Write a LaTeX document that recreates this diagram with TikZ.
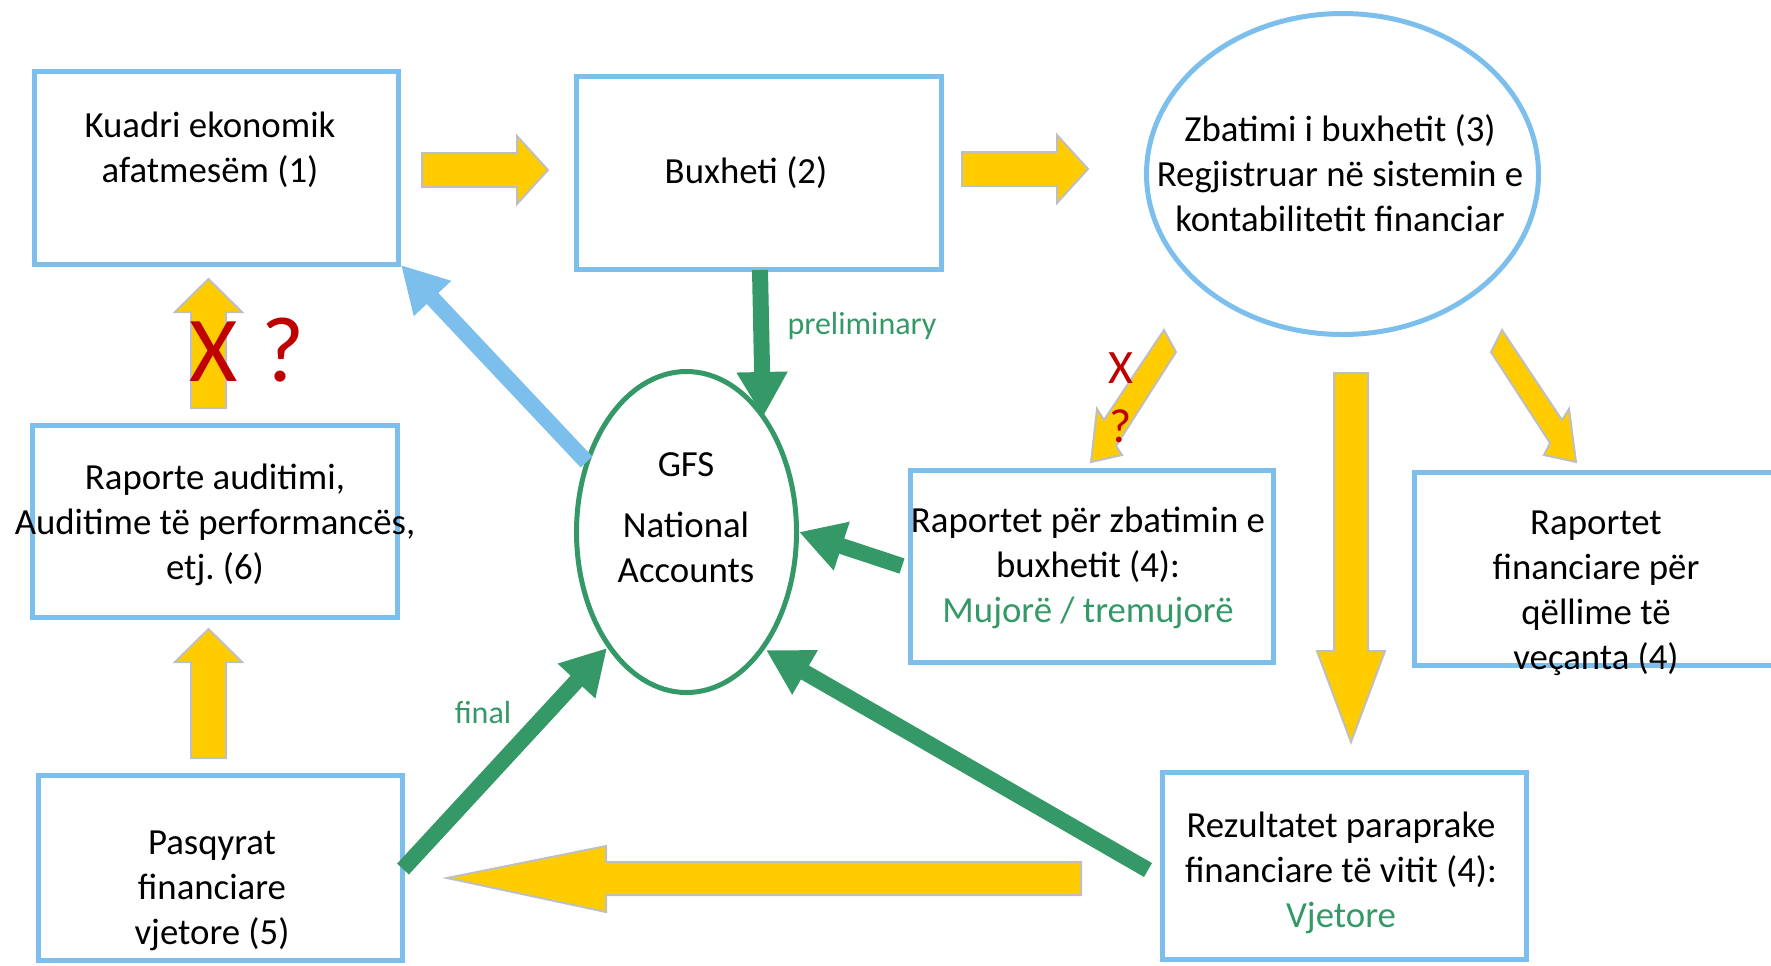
\documentclass[tikz,border=0pt]{standalone}
\usepackage{fontspec}
\setmainfont{Carlito}
\usetikzlibrary{arrows.meta,shapes.geometric}
\definecolor{lblue}{RGB}{125,191,236}
\definecolor{dgreen}{RGB}{52,153,102}
\definecolor{yel}{RGB}{255,204,0}
\definecolor{ygray}{RGB}{191,191,191}
\definecolor{dred}{RGB}{192,0,0}
\frenchspacing
\begin{document}
\begin{tikzpicture}[x=0.5pt,y=-0.5pt,
  box/.style={draw=lblue, line width=2.5pt, rectangle, inner sep=0pt},
  txt/.style={font=\fontsize{18.4pt}{22.5pt}\selectfont, align=center, inner sep=0pt, text=black},
  yarr/.style={fill=yel, draw=ygray, line width=1pt, line join=miter},
  garr/.style={draw=dgreen, line width=8pt, -{Triangle[length=22.5pt,width=24pt]}},
  barr/.style={draw=lblue, line width=8pt, -{Triangle[length=23pt,width=24pt]}},
  glabel/.style={font=\fontsize{16pt}{19pt}\selectfont, text=dgreen, inner sep=0pt},
  redbig/.style={font=\fontsize{46.5pt}{50pt}\selectfont, text=dred, inner sep=0pt},
  redsmall/.style={font=\fontsize{24pt}{28pt}\selectfont, text=dred, inner sep=0pt}]
\useasboundingbox (0,0) rectangle (1771,965);
\clip (0,0) rectangle (1771,965);

% boxes and ellipses
\node[box, minimum width=182pt, minimum height=96.5pt] (b1) at (216.5,168) {};
\node[box, minimum width=182.5pt, minimum height=96.5pt] (b2) at (759,173) {};
\node[box, minimum width=181.5pt, minimum height=96pt] (b4a) at (1092,566.5) {};
\node[box, minimum width=192.75pt, minimum height=96.5pt] (b4b) at (1607.25,569) {};
\node[box, minimum width=182pt, minimum height=93.5pt] (bR) at (1344.5,866) {};
\node[box, minimum width=182.5pt, minimum height=96pt] (b6) at (215,521.5) {};
\node[box, minimum width=182pt, minimum height=92.5pt] (b5) at (220.5,868) {};
\node[ellipse, draw=lblue, line width=2.5pt, inner sep=0pt, minimum width=196pt, minimum height=160.5pt] (e3) at (1342.5,174) {};
\node[ellipse, draw=dgreen, line width=2.5pt, inner sep=0pt, minimum width=110pt, minimum height=160.5pt] (gfs) at (686.5,532) {};

% yellow block arrows
\filldraw[yarr] (422,153)--(517,153)--(517,136)--(548,170)--(517,204)--(517,187)--(422,187)--cycle;
\filldraw[yarr] (962,152)--(1057,152)--(1057,135)--(1088,169)--(1057,203)--(1057,186)--(962,186)--cycle;
\filldraw[yarr] (191,408)--(191,312)--(175,312)--(208.5,279)--(242,312)--(226,312)--(226,408)--cycle;
\filldraw[yarr] (191,758)--(191,662)--(175,662)--(208.5,629)--(242,662)--(226,662)--(226,758)--cycle;
\filldraw[yarr] (1334,373)--(1334,651)--(1317,651)--(1351,742)--(1385,651)--(1368,651)--(1368,373)--cycle;
\filldraw[yarr] (1081,862)--(606,862)--(606,846)--(447,878)--(606,912)--(606,895)--(1081,895)--cycle;
\filldraw[yarr] (1164,330)--(1104,420)--(1097,409)--(1091,462)--(1122,455)--(1116,446)--(1176,352)--cycle;
\filldraw[yarr] (1502,330)--(1562,420)--(1569,409)--(1576,462)--(1544,455)--(1550,443)--(1491,352)--cycle;

% connector end points
\coordinate (b2t) at (760,270);
\coordinate (g1) at (763,417);
\coordinate (b4t) at (902,566);
\coordinate (g2) at (799,532);
\coordinate (rzt) at (1148,870);
\coordinate (g3) at (766,650);
\coordinate (b5t) at (403,869);
\coordinate (g4) at (607,648);
\coordinate (gft) at (586.5,462);
\coordinate (b1c) at (401,265);

% green and blue arrows
\draw[barr] (gft) -- (b1c);
\draw[garr] (b2t) -- (g1);
\draw[garr] (b4t) -- (g2);
\draw[garr] (rzt) -- (g3);
\draw[garr] (b5t) -- (g4);

% texts
\node[txt] (t1) at (210,150) {Kuadri ekonomik\\afatmesëm (1)};
\node[txt] (t2) at (746,173) {Buxheti (2)};
\node[txt] (t3) at (1340,173) {Zbatimi i buxhetit (3)\\Regjistruar në sistemin e\\kontabilitetit financiar};
\node[txt] (t4a) at (1088,568) {Raportet për zbatimin e\\buxhetit (4):\\\textcolor{dgreen}{Mujorë / tremujorë}};
\node[txt] (t4b) at (1596,593) {Raportet\\financiare për\\qëllime të\\veçanta (4)};
\node[txt] (tR) at (1341,873) {Rezultatet paraprake\\financiare të vitit (4):\\\textcolor{dgreen}{Vjetore}};
\node[txt] (t6) at (215,525) {Raporte auditimi,\\Auditime të performancës,\\etj. (6)};
\node[txt] (t5) at (212,891) {Pasqyrat\\financiare\\vjetore (5)};
\node[txt] (tg) at (686,518) {GFS\\[8pt]National\\Accounts};

\node[glabel] (lp) at (862,326) {preliminary};
\node[glabel] (lf) at (483,712) {final};
\node[redbig] (x1) at (213.5,352) {X};
\node[redbig] (q1) at (283,350) {?};
\node[redsmall] (x2) at (1121,368.5) {X};
\node[redsmall] (q2) at (1120.5,426.5) {?};
\end{tikzpicture}
\end{document}
